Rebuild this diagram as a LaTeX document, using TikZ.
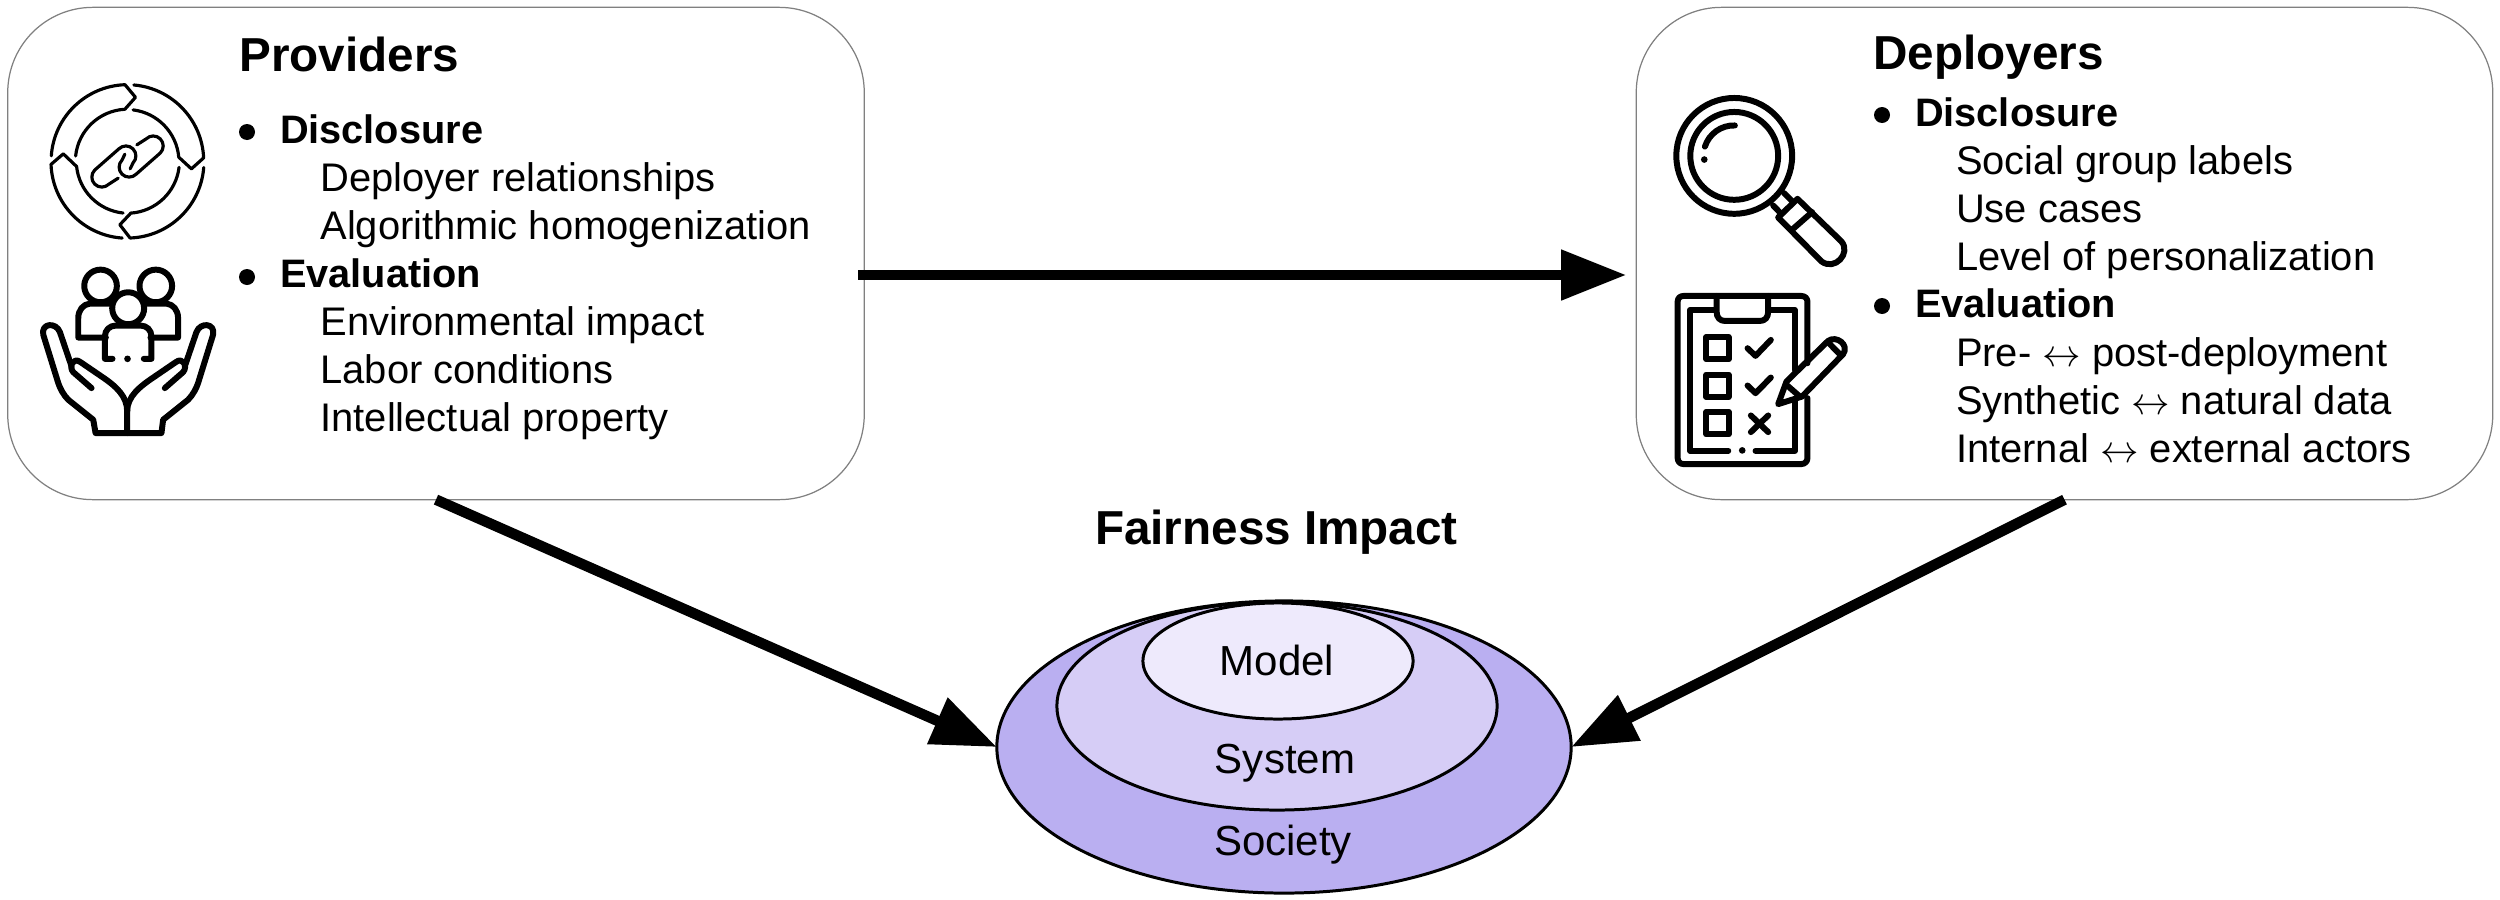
\documentclass[tikz,border=0pt]{standalone}
\usepackage{fontspec}
\setmainfont{Liberation Sans}
\usetikzlibrary{arrows.meta,shapes.geometric}
\definecolor{societyfill}{HTML}{BAAFF1}
\definecolor{systemfill}{HTML}{D6CDF6}
\definecolor{modelfill}{HTML}{EEEAFC}
\begin{document}
\begin{tikzpicture}[
    x=0.01cm, y=-0.01cm,
    lbl/.style={font=\fontsize{11.35}{13}\selectfont,anchor=base west,inner sep=0pt,outer sep=0pt},
    bold/.style={lbl,font=\fontsize{11.3}{13}\selectfont\bfseries},
    hdr/.style={lbl,font=\fontsize{13.55}{16}\selectfont\bfseries},
    ringlbl/.style={font=\fontsize{11.95}{14}\selectfont,anchor=base,inner sep=0pt,outer sep=0pt},
    actor/.style={draw=black!50,line width=0.35pt,fill=white,rounded corners=0.85cm,minimum width=8.56cm,minimum height=4.92cm,outer sep=0pt},
    ring/.style={ellipse,draw=black,line width=0.85pt,inner sep=0pt,outer sep=0pt},
    flow/.style={line width=3pt,-{Triangle[length=18.5pt,width=13.7pt]}},
    thin icon/.style={line width=0.9pt,line cap=round,line join=round},
    thick icon/.style={line width=1.7pt,line cap=round,line join=round},
    zoomed/.style={x=0.003333cm,y=-0.003333cm}
]
\useasboundingbox (0,0) rectangle (2500,900);

\node[actor] (providers) at (436,253.5) {};
\node[actor] (deployers) at (2064.5,253.5) {};

% providers text
\node[hdr] (provtitle) at (239.5,71) {Providers};
\fill (247,132) circle [radius=8];
\node[bold] (provdisc) at (280,143.5) {Disclosure};
\node[lbl] (provrel) at (320.5,191.5) {Deployer relationships};
\node[lbl] (provhom) at (320.5,239.5) {Algorithmic homogenization};
\fill (247,277) circle [radius=8];
\node[bold] (proveval) at (280,287.5) {Evaluation};
\node[lbl] (provenv) at (320.5,335) {Environmental impact};
\node[lbl] (provlab) at (320.5,383) {Labor conditions};
\node[lbl] (provip) at (320.5,431) {Intellectual property};

% deployers text
\node[hdr] (deptitle) at (1873.5,69) {Deployers};
\fill (1882,115) circle [radius=8];
\node[bold] (depdisc) at (1915,126.5) {Disclosure};
\node[lbl] (depsoc) at (1956,174.5) {Social group labels};
\node[lbl] (depuse) at (1956,222.5) {Use cases};
\node[lbl] (deplev) at (1956,270) {Level of personalization};
\fill (1882,306) circle [radius=8];
\node[bold] (depeval) at (1915,317.5) {Evaluation};
\node[lbl] (deppre) at (1956,366) {Pre- $\leftrightarrow$ post-deployment};
\node[lbl] (depsyn) at (1956,414) {Synthetic $\leftrightarrow$ natural data};
\node[lbl] (depint) at (1956,462) {Internal $\leftrightarrow$ external actors};

% fairness rings
\node[hdr] (fairness) at (1095,544) {Fairness Impact};
\node[ring,fill=societyfill,minimum width=5.74cm,minimum height=2.92cm] (society) at (1284,747) {};
\node[ring,fill=systemfill,minimum width=4.4cm,minimum height=2.08cm] (system) at (1277,706) {};
\node[ring,fill=modelfill,minimum width=2.7cm,minimum height=1.16cm] (model) at (1278,661) {};
\node[ringlbl] (modellbl) at (1277,675) {Model};
\node[ringlbl] (systemlbl) at (1285,773) {System};
\node[ringlbl] (societylbl) at (1283,855) {Society};

\draw[flow] ([shift={(-6,21.5)}]providers.east) -- ([shift={(-10,21.5)}]deployers.west);
\draw[flow] (providers.south) -- (society.west);
\draw[flow] (deployers.south) -- (society.east);

% link icon
\begin{scope}[shift={(35,70)},zoomed,thin icon]
\draw (49,258) arc [start angle=184,end angle=268,radius=230] -- (302,82) -- (270,118) arc [start angle=267,end angle=186,radius=157];
\draw (297,45) arc [start angle=275,end angle=357.5,radius=230] -- (470,297) -- (432,262) arc [start angle=355,end angle=277,radius=157];
\draw (507,293) arc [start angle=4.5,end angle=88,radius=230] -- (255,465) -- (288,430) arc [start angle=86,end angle=7,radius=157];
\draw (262,505) arc [start angle=94,end angle=178,radius=230] -- (85,252) -- (125,290) arc [start angle=174,end angle=96,radius=157];
\draw (250,325) -- (222,343) arc [start angle=45,end angle=225,radius=30] -- (252,237) arc [start angle=225,end angle=405,radius=30] -- (286,297);
\draw (306,225) -- (334,207) arc [start angle=225,end angle=405,radius=30] -- (304,313) arc [start angle=45,end angle=225,radius=30] -- (270,253);
\end{scope}

% people in hands icon
\begin{scope}[shift={(30,255)},zoomed,thick icon]
\draw (212,93) circle [radius=49];
\draw (378,93) circle [radius=49];
\draw (228,248) -- (145,248) -- (145,190) .. controls (145,165) and (160,148) .. (180,146) -- (240,146);
\draw (362,248) -- (445,248) -- (445,190) .. controls (445,165) and (430,148) .. (410,146) -- (350,146);
\draw[fill=white] (295,160) circle [radius=48];
\draw (248,312) -- (225,312) -- (225,245) .. controls (225,225) and (240,212) .. (258,212) -- (332,212) .. controls (350,212) and (365,225) .. (365,245) -- (365,312) -- (342,312);
\fill (293,312) circle [radius=10];
\draw (292,535) -- (197,535) -- (190,495) -- (115,435) .. controls (100,420) and (90,400) .. (85,385) -- (40,240) .. controls (32,205) and (78,200) .. (90,232) -- (125,335);
\draw (185,400) -- (130,352) .. controls (115,335) and (130,305) .. (152,322) -- (215,365) .. controls (260,395) and (292,425) .. (292,470) -- (292,535) -- (395,535) -- (400,495) -- (475,435) .. controls (490,420) and (500,400) .. (505,385) -- (550,240) .. controls (558,205) and (512,200) .. (500,232) -- (465,335);
\draw (405,400) -- (460,352) .. controls (475,335) and (460,305) .. (438,322) -- (375,365) .. controls (330,395) and (292,425) .. (292,470);
\end{scope}

% magnifier icon
\begin{scope}[shift={(1665,85)},zoomed,thick icon]
\draw (208,213) circle [radius=174];
\draw (208,213) circle [radius=132];
\draw (120,185) arc [start angle=197.6,end angle=272,radius=91];
\fill (118,224) circle [radius=10];
\draw (358,325) -- (385,352);
\draw (325,362) -- (350,388);
\draw (340,398) -- (398,342) -- (530,470) .. controls (560,505) and (510,560) .. (470,530) -- cycle;
\draw (385,432) -- (442,382);
\end{scope}

% clipboard icon
\begin{scope}[shift={(1665,285)},zoomed,thick icon]
\draw (428,235) -- (428,50) .. controls (428,40) and (420,33) .. (410,33) -- (55,33) .. controls (45,33) and (38,40) .. (38,50) -- (38,520) .. controls (38,530) and (45,538) .. (55,538) -- (410,538) .. controls (420,538) and (428,530) .. (428,520) -- (428,340);
\draw (152,75) -- (75,75) -- (75,498) -- (190,498);
\fill (232,497) circle [radius=10];
\draw (272,498) -- (390,498) -- (390,345);
\draw (310,75) -- (390,75) -- (390,255);
\draw (155,33) -- (155,80) .. controls (155,98) and (165,108) .. (180,108) -- (285,108) .. controls (300,108) and (310,98) .. (310,80) -- (310,33);
\draw (124,157) rectangle (191,223);
\draw (124,269) rectangle (191,336);
\draw (124,381) rectangle (191,449);
\draw (248,190) -- (272,213) -- (318,165);
\draw (248,302) -- (272,325) -- (318,278);
\draw (258,392) -- (310,442);
\draw (310,392) -- (258,442);
\draw (340,358) -- (365,290) -- (490,168) .. controls (515,150) and (555,180) .. (535,208) -- (412,335) -- cycle;
\draw (490,172) -- (525,208);
\draw (365,300) -- (405,335);
\end{scope}

\end{tikzpicture}
\end{document}
